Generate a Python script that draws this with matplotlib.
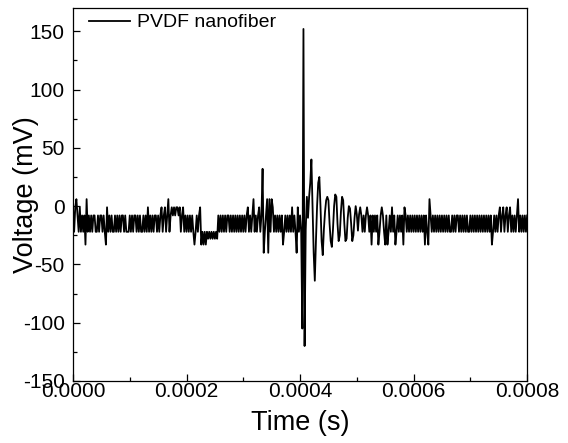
import numpy as np
import matplotlib.pyplot as plt
from matplotlib.ticker import MultipleLocator, FormatStrFormatter

# sample step of the recording (s)
dt = 2e-6

# mV value of each letter used in the noise strings
level_mv = {'p': 32, 'u': 6, 'z': -1, 'h': -8, 'l': -22, 'm': -28, 'd': -33, 'e': -40}

# noise before the pulse, one letter per sample (samples 0..201)
noise_pre = ("zlzuhlzlhl" "hdulhlhlhh" "llhlhhlhld" "zlhlhllhlh" "lhlhhlhlll"
             "hlhlhhlhlh" "llhlhlzlhl" "hlhhlhlhzl" "hzlhulhzhz" "hzzhzlhzlh"
             "lhlhlhldlh" "lhzdldldlm" "lmlmlmlmhl" "hlhlhlhhlh" "lhlhlhlhlh"
             "lhlhzlhlhu" "lhlhzlhpel" "hueuluzlhl" "hlhlhdlhlh" "lhlzlhlezl"
             "hl")

# the pulse and its ringing (mV), samples 202..252
ring = [-105, 152, -120, -20, 8, -10, 8, 20, 40, 0,
        -40, -64, -30, 0, 20, 25, 0, -30, -42, -20,
        -5, 5, 8, 5, -15, -30, -35, -20, 0, 10,
        8, -15, -30, -25, -5, 8, 5, -15, -30, -28,
        -10, 0, -2, -15, -30, -25, -10, 0, -7, -21,
        -7]

# noise after the pulse (samples 253..400)
noise_post = ("zhlhlhzhlh" "dhlhlhdlhz" "hldhdlhlzl" "hdlhlhlhdz" "hlhlhlhlhl"
              "hlhlhlhdhl" "duhlhlhlhl" "hlhlhlhlhl" "lhlhlhhlhl" "hlhlhllhlh"
              "lhlhlhlhlh" "lhlhlhdlhl" "hlhzlhzlhz" "lhzlhlhlhu" "lhlhlhlh")

voltage = ([level_mv[c] for c in noise_pre] + ring +
           [level_mv[c] for c in noise_post])
time = np.arange(len(voltage)) * dt

plt.rcParams['font.family'] = ['Liberation Sans', 'DejaVu Sans']
plt.rcParams['axes.unicode_minus'] = False

fig = plt.figure(figsize=(5.68, 4.43), dpi=100)
ax = fig.add_axes([0.1285, 0.14, 0.7995, 0.842])

ax.plot(time, voltage, color='black', linewidth=1.3, label='PVDF nanofiber')

ax.set_xlim(0, 0.0008)
ax.set_ylim(-150, 170)
ax.xaxis.set_major_locator(MultipleLocator(0.0002))
ax.xaxis.set_minor_locator(MultipleLocator(0.0001))
ax.xaxis.set_major_formatter(FormatStrFormatter('%.4f'))
ax.yaxis.set_major_locator(MultipleLocator(50))
ax.yaxis.set_minor_locator(MultipleLocator(25))

ax.tick_params(which='both', direction='in', top=False, right=False,
               labelsize=15, width=0.9)
ax.tick_params(which='major', length=5)
ax.tick_params(which='minor', length=3)
ax.tick_params(axis='x', pad=1)
ax.tick_params(axis='y', pad=6)
for s in ax.spines.values():
    s.set_linewidth(0.9)

ax.set_xlabel('Time (s)', fontsize=19.5)
ax.set_ylabel('Voltage (mV)', fontsize=19.5)
ax.xaxis.set_label_coords(0.5, -0.078)
ax.yaxis.set_label_coords(-0.075, 0.5)

ax.legend(loc='upper left', bbox_to_anchor=(0.022, 1.0), frameon=False,
          fontsize=14, handlelength=2.1, handletextpad=0.4,
          borderaxespad=0.1, borderpad=0.2)

fig.savefig('out.png', dpi=100)
